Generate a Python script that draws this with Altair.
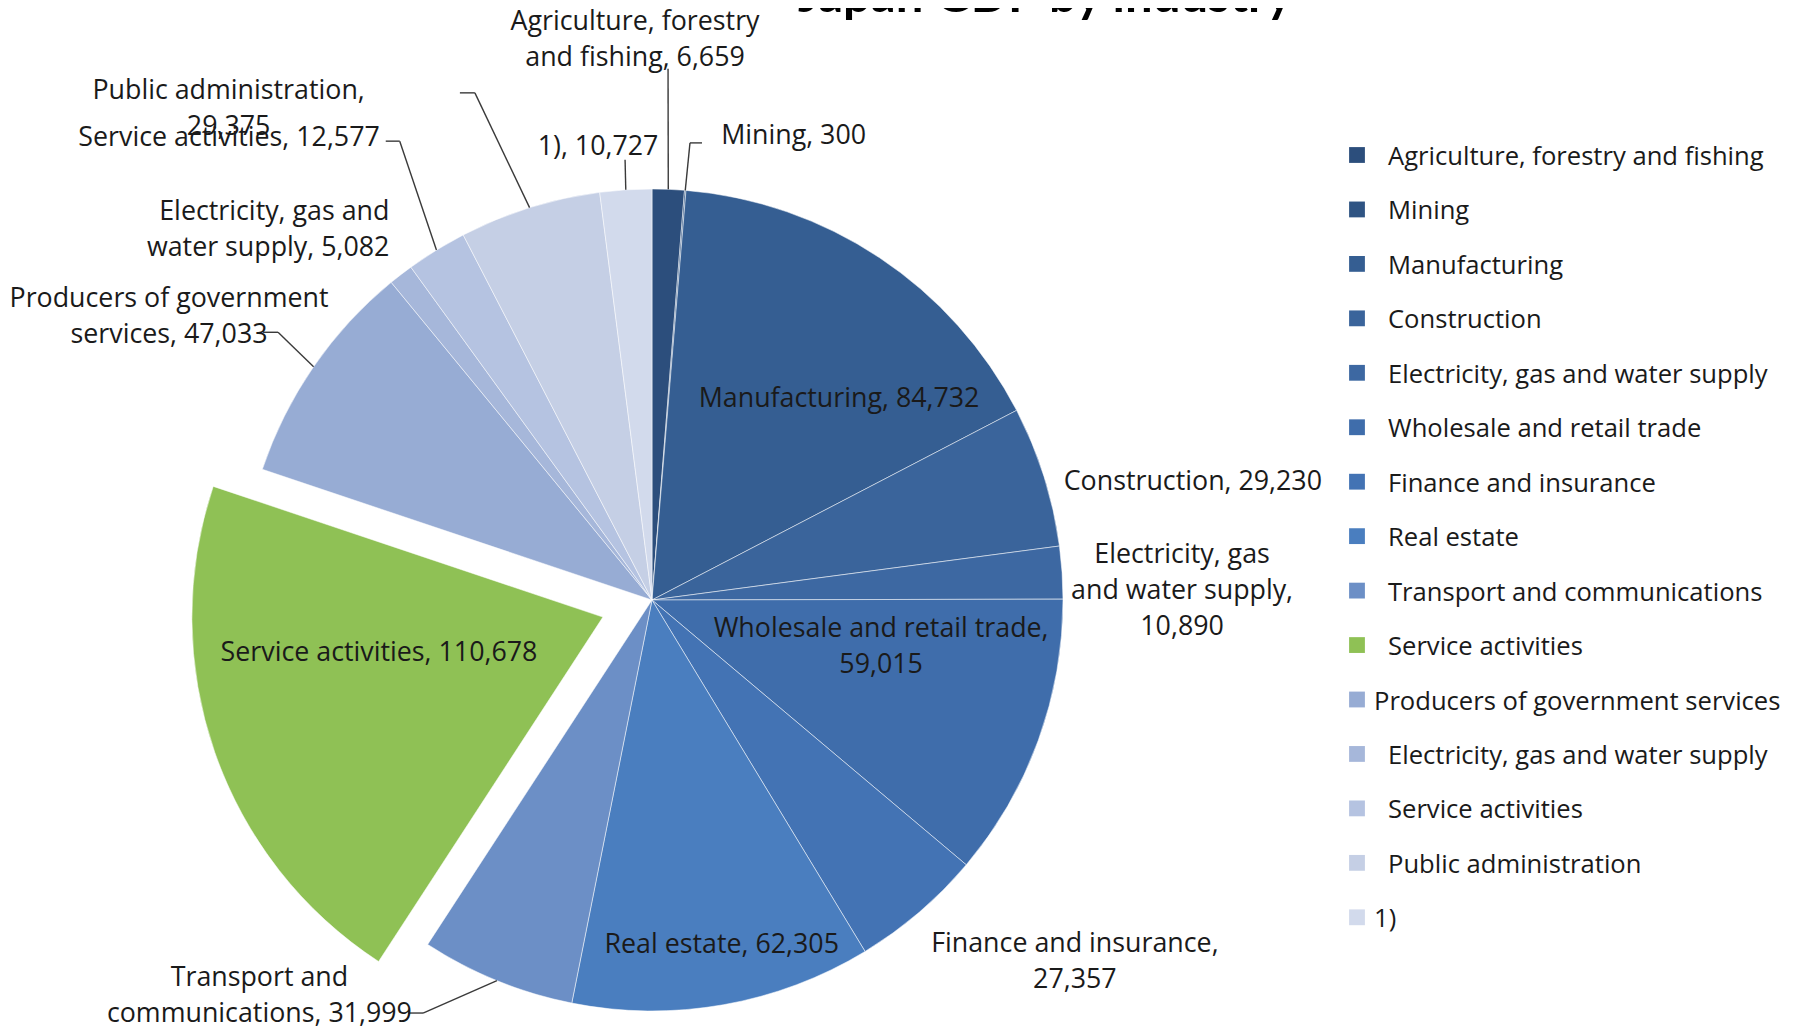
import altair as alt
import pandas as pd

# ---------------- data ----------------
TITLE = "Japan GDP by industry"

industries = [
    "Agriculture, forestry and fishing", "Mining", "Manufacturing", "Construction",
    "Electricity, gas and water supply", "Wholesale and retail trade", "Finance and insurance",
    "Real estate", "Transport and communications", "Service activities",
    "Producers of government services", "Electricity, gas and water supply",
    "Service activities", "Public administration", "1)",
]
values = [6659, 300, 84732, 29230, 10890, 59015, 27357, 62305, 31999,
          110678, 47033, 5082, 12577, 29375, 10727]

# wrapped names used in the data labels, and the separator before the value
label_names = [
    "Agriculture, forestry\nand fishing", "Mining", "Manufacturing", "Construction",
    "Electricity, gas\nand water supply", "Wholesale and retail trade", "Finance and insurance",
    "Real estate", "Transport and\ncommunications", "Service activities",
    "Producers of government\nservices", "Electricity, gas and\nwater supply",
    "Service activities", "Public administration", "1)",
]
label_seps = [", ", ", ", ", ", ", ", ",\n", ",\n", ",\n", ",  ", ", ", ", ",
              ", ", ", ", ", ", ",\n", ", "]

colors = ["#2c4e7c", "#2f5483", "#355e92", "#3a649b", "#3d68a2", "#3f6dab", "#4373b4",
          "#4a7ebf", "#6c8fc6", "#8fc155", "#97acd4", "#a6b7da", "#b5c3e1", "#c5cfe5", "#d2daec"]

exploded = [0, 0, 0, 0, 0, 0, 0, 0, 0, 1, 0, 0, 0, 0, 0]

# ---------------- layout / style ----------------
FONT = "Open Sans"
FS = 26.8
LEG_FS = 25.6
LH = 36
CX, CY, R = 644, 592, 411
EXPLODE = 52
# label placement: radius (x R) and angular shift (deg) from slice mid-angle
label_r = [1.368, 1.146, 0.672, 1.348, 1.290, 0.568, 1.352, 0.852, 1.354, 0.551,
           1.365, 1.107, 1.528, 1.582, 1.115]
label_shift = [-4.0, 3.8, 9.0, 5.0, 2.6, -8.9, -9.0, -1.5, 22.7, 10.6,
               -4.0, 2.4, -10.7, -23.3, -3.1]
label_align = ["center", "left", "center", "center", "center", "center", "center", "center",
               "center", "center", "center", "right", "center", "center", "center"]
# leader lines: elbow radius (x R, 0 = none), elbow angle (deg), horizontal stub (px)
leader_r = [1.293, 1.116, 0, 0, 0, 0, 0, 0, 1.149, 0, 1.119, 0, 1.274, 1.307, 1.073]
leader_a = [1.73, 4.75, 0, 0, 0, 0, 0, 0, 209.0, 0, 305.6, 0, 331.2, 340.75, 356.5]
leader_stub = [0, 12, 0, 0, 0, 0, 0, 0, -15, 0, -15, 0, -14, -15, 0]
legend_indent = [1, 1, 1, 1, 1, 1, 1, 1, 1, 1, 0, 1, 1, 1, 0]

labels = [f"{n}{s}{v:,}" for n, s, v in zip(label_names, label_seps, values)]

df = pd.DataFrame({
    "order": list(range(len(values))),
    "industry": industries,
    "value": values,
    "label": labels,
    "nl": [t.count("\n") + 1 for t in labels],
    "color": colors,
    "explode": exploded,
    "lr": label_r,
    "lshift": label_shift,
    "align": label_align,
    "er": leader_r,
    "ea": leader_a,
    "stub": leader_stub,
})

base = (
    alt.Chart(df)
    .transform_window(cum="sum(value)", sort=[alt.SortField("order")])
    .transform_joinaggregate(total="sum(value)")
    .transform_calculate(t1="datum.cum / datum.total * 2 * PI")
    .transform_calculate(t0="(datum.cum - datum.value) / datum.total * 2 * PI")
    .transform_calculate(mid="(datum.t0 + datum.t1) / 2")
    .transform_calculate(cx=f"{CX} + {EXPLODE} * datum.explode * sin(datum.mid)")
    .transform_calculate(cy=f"{CY} - {EXPLODE} * datum.explode * cos(datum.mid)")
)

arcs = base.mark_arc(radius=R, stroke="white", strokeWidth=1, strokeOpacity=0.5).encode(
    theta=alt.Theta("t0:Q", scale=None),
    theta2="t1:Q",
    x=alt.X("cx:Q", scale=None, axis=None),
    y=alt.Y("cy:Q", scale=None, axis=None),
    color=alt.Color("color:N", scale=None),
)

lab_base = (
    base.transform_calculate(la="datum.mid + datum.lshift * PI / 180")
    .transform_calculate(lrad=f"datum.lr * {R}")
    .transform_calculate(lx="datum.cx + datum.lrad * sin(datum.la)")
    .transform_calculate(ly=f"datum.cy - datum.lrad * cos(datum.la) - (datum.nl - 1) * {LH} / 2")
)


def label_layer(al):
    return lab_base.transform_filter(f"datum.align == '{al}'").mark_text(
        align=al, baseline="middle", font=FONT, fontSize=FS, lineBreak="\n",
        lineHeight=LH, color="#1a1a1a", dy=2,
    ).encode(
        x=alt.X("lx:Q", scale=None, axis=None),
        y=alt.Y("ly:Q", scale=None, axis=None),
        text="label:N",
    )


lead_base = (
    base.transform_filter("datum.er > 0")
    .transform_calculate(ax=f"datum.cx + {R} * sin(datum.mid)")
    .transform_calculate(ay=f"datum.cy - {R} * cos(datum.mid)")
    .transform_calculate(ex=f"{CX} + datum.er * {R} * sin(datum.ea * PI / 180)")
    .transform_calculate(ey=f"{CY} - datum.er * {R} * cos(datum.ea * PI / 180)")
    .transform_calculate(sx="datum.ex + datum.stub")
)
seg = lead_base.mark_rule(color="#3a3a3a", strokeWidth=1.4).encode(
    x=alt.X("ax:Q", scale=None, axis=None), y=alt.Y("ay:Q", scale=None, axis=None),
    x2="ex:Q", y2="ey:Q",
)
stub = lead_base.transform_filter("datum.stub != 0").mark_rule(
    color="#3a3a3a", strokeWidth=1.4
).encode(
    x=alt.X("ex:Q", scale=None, axis=None), y=alt.Y("ey:Q", scale=None, axis=None),
    x2="sx:Q", y2="ey:Q",
)

# ---------------- legend ----------------
leg_df = pd.DataFrame({
    "order": list(range(len(industries))),
    "name": industries,
    "color": colors,
    "indent": legend_indent,
})
leg_y = alt.Y("order:Q", scale=alt.Scale(domain=[0, 14], range=[147, 147 + 14 * 54.45]), axis=None)
leg_sq = alt.Chart(leg_df).mark_square(size=250, opacity=1).encode(
    x=alt.value(1349), y=leg_y, color=alt.Color("color:N", scale=None),
)
leg_txt = alt.Chart(leg_df).transform_calculate(
    tx="1380 - 14 * (1 - datum.indent)"
).mark_text(
    align="left", baseline="middle", font=FONT, fontSize=LEG_FS, color="#1a1a1a", dy=2
).encode(
    x=alt.X("tx:Q", scale=None, axis=None), y=leg_y, text="name:N",
)

title = alt.Chart(pd.DataFrame({"t": [TITLE]})).mark_text(
    font="Lato", fontSize=49, fontWeight="bold", baseline="alphabetic", align="center",
    color="#000000",
).encode(x=alt.value(1037), y=alt.value(4), text="t:N")

chart = alt.layer(
    arcs, seg, stub,
    label_layer("center"), label_layer("left"), label_layer("right"),
    leg_sq, leg_txt, title,
).resolve_scale(x="independent", y="independent").properties(
    width=1778, height=1018, autosize="none", padding=0, background="white",
).configure_view(stroke=None)

chart.save("out.html", embed_options={"renderer": "svg", "actions": False})
